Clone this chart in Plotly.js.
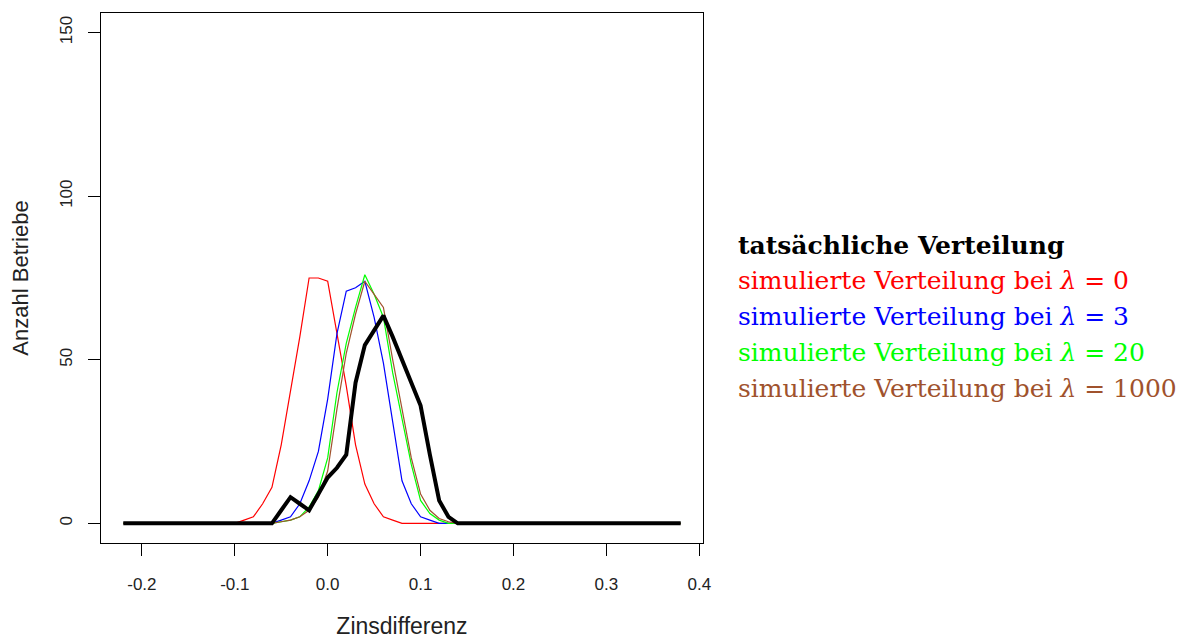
<!DOCTYPE html>
<html>
<head>
<meta charset="utf-8">
<script src="https://cdn.plot.ly/plotly-3.0.1.min.js"></script>
<style>html,body{margin:0;padding:0;background:#fff;}#chart{width:1178px;height:639px;}</style>
</head>
<body>
<div id="chart"></div>
<script>
// Zinsdifferenz (x) grid
const zinsdifferenz = [-0.22, -0.10, -0.09, -0.08, -0.07, -0.06, -0.05, -0.04, -0.03, -0.02, -0.01, 0.00, 0.01, 0.02, 0.03, 0.04, 0.05, 0.06, 0.07, 0.08, 0.09, 0.10, 0.11, 0.12, 0.13, 0.14, 0.15, 0.38];

// Anzahl Betriebe per series
const tatsaechlich = [0, 0, 0, 0, 0, 0, 4, 8, 6, 4, 9, 14, 17, 21, 43, 54.5, 59, 63.5, 57, 50, 43, 36, 21, 7, 2, 0, 0, 0];
const lambda0      = [0, 0, 1, 2, 6, 11, 24, 40, 57, 75, 75, 74, 58, 42, 24, 12, 6, 2, 1, 0, 0, 0, 0, 0, 0, 0, 0, 0];
const lambda3      = [0, 0, 0, 0, 0, 0, 1, 2, 6, 13, 22, 38, 58, 71, 72, 74, 63, 49, 31, 13, 6, 2, 1, 0, 0, 0, 0, 0];
const lambda20     = [0, 0, 0, 0, 0, 0, 0.5, 1, 2, 5, 10, 20, 40, 55, 66, 76, 70, 63, 46, 32, 18, 7, 3, 1, 0, 0, 0, 0];
const lambda1000   = [0, 0, 0, 0, 0, 0, 0.5, 1, 2, 4, 8, 16, 35, 52, 64, 74, 70, 66, 50, 35, 20, 9, 4, 1.5, 0.5, 0, 0, 0];

const seriesNames = ['tatsächliche Verteilung', 'simulierte Verteilung bei λ = 0', 'simulierte Verteilung bei λ = 3', 'simulierte Verteilung bei λ = 20', 'simulierte Verteilung bei λ = 1000'];
const legendLabels = [
  '<b>tatsächliche Verteilung</b>',
  'simulierte Verteilung bei <i>λ</i> = 0',
  'simulierte Verteilung bei <i>λ</i> = 3',
  'simulierte Verteilung bei <i>λ</i> = 20',
  'simulierte Verteilung bei <i>λ</i> = 1000'
];
const colors = ['#000000', '#FF0000', '#0000FF', '#00FF00', '#A0522D'];
const xTicks = [-0.2, -0.1, 0.0, 0.1, 0.2, 0.3, 0.4];
const xTickText = ['-0.2', '-0.1', '0.0', '0.1', '0.2', '0.3', '0.4'];
const yTicks = [0, 50, 100, 150];

const ys = [tatsaechlich, lambda0, lambda3, lambda20, lambda1000];
const drawOrder = [1, 2, 3, 4, 0];
const traces = drawOrder.map(i => ({
  type: 'scatter', mode: 'lines', name: seriesNames[i],
  x: zinsdifferenz, y: ys[i],
  line: {color: colors[i], width: i === 0 ? 4 : 1.2},
  showlegend: false, hoverinfo: 'skip'
}));

const legendTop = 0.562, legendStep = 0.0675;
const annotations = legendLabels.map((t, i) => ({
  text: t, xref: 'paper', yref: 'paper', x: 1.054, y: legendTop - i * legendStep,
  xanchor: 'left', yanchor: 'middle', showarrow: false,
  font: {family: 'DejaVu Serif, serif', size: 25, color: colors[i]}
}));

const layout = {
  width: 1178, height: 639,
  margin: {l: 101, r: 475, t: 13, b: 96},
  paper_bgcolor: '#ffffff', plot_bgcolor: '#ffffff',
  font: {family: 'Liberation Sans, Arial, sans-serif', color: '#000'},
  xaxis: {
    range: [-0.244, 0.404], tickvals: xTicks, ticktext: xTickText,
    ticks: 'outside', ticklen: 12, tickwidth: 1, tickcolor: '#000',
    showline: true, linecolor: '#000', linewidth: 1, mirror: true,
    showgrid: false, zeroline: false,
    tickfont: {size: 17, color: '#222'}, ticklabelstandoff: 14,
    title: {text: 'Zinsdifferenz', font: {size: 23, color: '#222'}, standoff: 24}
  },
  yaxis: {
    range: [-6, 156], tickvals: yTicks,
    ticks: 'outside', ticklen: 12, tickwidth: 1, tickcolor: '#000',
    showline: true, linecolor: '#000', linewidth: 1, mirror: true,
    showgrid: false, zeroline: false, tickangle: -90,
    tickfont: {size: 17, color: '#222'}, ticklabelstandoff: 9,
    title: {text: 'Anzahl Betriebe', font: {size: 22, color: '#222'}, standoff: 22}
  },
  annotations: annotations
};

Plotly.newPlot('chart', traces, layout, {staticPlot: true, displayModeBar: false});
</script>
</body>
</html>
